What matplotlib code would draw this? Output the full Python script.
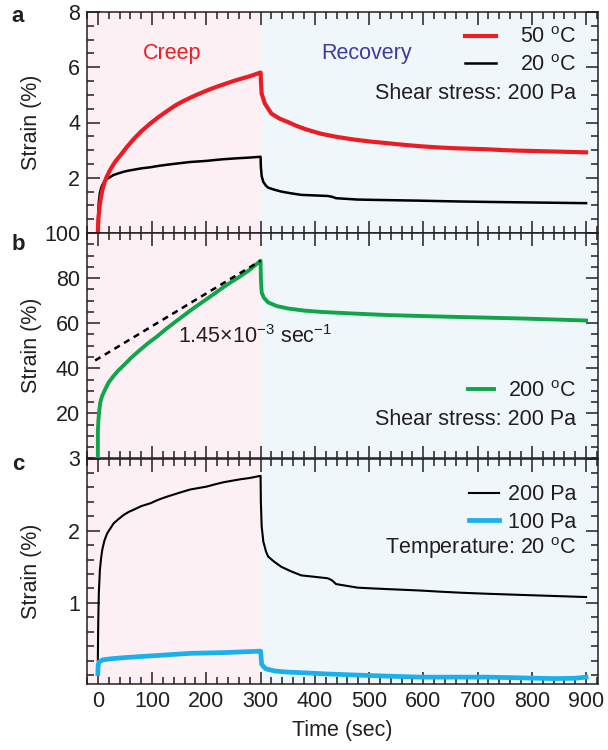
import matplotlib
matplotlib.use("Agg")
import matplotlib.pyplot as plt
from matplotlib.ticker import MultipleLocator, FixedLocator

plt.rcParams["font.family"] = ["Liberation Sans", "DejaVu Sans"]
plt.rcParams["mathtext.fontset"] = "custom"
plt.rcParams["mathtext.rm"] = "Liberation Sans"
plt.rcParams["mathtext.it"] = "Liberation Sans:italic"
plt.rcParams["mathtext.bf"] = "Liberation Sans:bold"

# ------------------- DATA -------------------
# creep at 50 C, 200 Pa
t_50c = [0, 1, 3, 5, 8, 12, 16, 23, 32, 41, 53, 66, 80, 97, 112, 128, 143, 158,
         174, 189, 205, 220, 235, 250, 265, 281, 300, 300.5, 302, 308, 320, 335,
         351, 366, 381, 396, 412, 440, 473, 503, 534, 565, 595, 625, 656, 687,
         718, 748, 779, 810, 840, 870, 900]
strain_50c = [0, 0.5, 0.92, 1.2, 1.53, 1.82, 2.02, 2.3, 2.58, 2.8, 3.1, 3.4, 3.68,
              3.97, 4.2, 4.42, 4.62, 4.78, 4.93, 5.06, 5.19, 5.3, 5.4, 5.5, 5.59,
              5.68, 5.81, 5.53, 5.04, 4.68, 4.32, 4.14, 4.01, 3.88, 3.77, 3.68,
              3.59, 3.48, 3.38, 3.31, 3.25, 3.19, 3.14, 3.10, 3.07, 3.05, 3.03,
              3.00, 2.98, 2.965, 2.95, 2.935, 2.92]

# creep at 20 C, 200 Pa (same run shown in panels a and c)
t_20c = [0, 0.5, 1, 1.8, 3.7, 6, 8, 12, 17, 23, 29, 38, 48, 57, 66, 80, 97, 112,
         127, 148, 170, 185, 200, 215, 231, 246, 261, 280, 300, 300.5, 302, 305,
         310, 314, 325, 338, 355, 375, 400, 424, 432, 439, 455, 479, 505, 534,
         565, 595, 630, 669, 720, 779, 840, 900]
strain_20c = [0.2, 0.6, 0.85, 1.13, 1.45, 1.62, 1.73, 1.86, 1.96, 2.03, 2.10,
              2.16, 2.22, 2.26, 2.29, 2.34, 2.38, 2.43, 2.47, 2.52, 2.57, 2.59,
              2.61, 2.64, 2.67, 2.69, 2.71, 2.73, 2.76, 2.4, 2.06, 1.85, 1.71,
              1.64, 1.57, 1.50, 1.44, 1.38, 1.36, 1.34, 1.31, 1.26, 1.24, 1.21,
              1.20, 1.19, 1.18, 1.17, 1.155, 1.14, 1.125, 1.11, 1.095, 1.08]

# creep at 200 C, 200 Pa
t_200c = [0, 0, 1, 2.5, 4.4, 8, 13.6, 20, 29, 38, 48, 62, 78, 93, 109, 124, 139.5,
          155, 170, 185, 200.6, 216, 231, 246, 262, 280, 300, 300.5, 302, 306,
          314, 330, 351, 380, 412, 470, 534, 595, 656, 720, 779, 840, 900]
strain_200c = [1.0, 12, 17, 21, 24.8, 27.8, 30.7, 33.8, 36.6, 39.1, 41.4, 44.8,
               48.2, 51.2, 54.1, 57.1, 60.0, 62.8, 65.5, 68.1, 70.7, 73.3, 75.9,
               78.3, 80.7, 83.7, 87.7, 80, 73.6, 71.3, 69.2, 67.6, 66.5, 65.6, 65.0,
               64.3, 63.6, 63.2, 62.8, 62.45, 62.1, 61.65, 61.2]

# linear creep fit, 1.45e-3 1/sec -> 0.145 %/sec
fit_rate = 0.145
fit_t = [-5, 300]
fit_end = 87.7

# creep at 20 C, 100 Pa
t_100pa = [0, 0.5, 2, 9, 25, 48, 78, 109, 140, 170, 200, 231, 265, 299, 300, 302,
           306, 310, 318, 326, 350, 381, 420, 473, 530, 595, 655, 718, 780, 840,
           880, 900]
strain_100pa = [0.02, 0.13, 0.18, 0.21, 0.225, 0.24, 0.255, 0.27, 0.285, 0.30,
                0.305, 0.31, 0.32, 0.33, 0.33, 0.15, 0.11, 0.085, 0.07, 0.055,
                0.04, 0.03, 0.015, 0.0, -0.015, -0.03, -0.03, -0.03, -0.04, -0.05,
                -0.045, -0.03]

x_ticks = [0, 100, 200, 300, 400, 500, 600, 700, 800, 900]
switch_t = 300

RED = "#ec1c24"
GREEN = "#10a54a"
BLUE = "#1ab0ec"
INK = "#231f20"
PINK_BG = "#fcf0f5"
BLUE_BG = "#eff7fa"

# ------------------- FIGURE -------------------
fig = plt.figure(figsize=(6.08, 7.5), dpi=100)
L, W = 87 / 608, 511 / 608
ax_a = fig.add_axes([L, 1 - 233 / 750, W, 221 / 750])
ax_b = fig.add_axes([L, 1 - 458.5 / 750, W, 225.5 / 750])
ax_c = fig.add_axes([L, 1 - 684 / 750, W, 225.5 / 750])

for ax in (ax_a, ax_b, ax_c):
    ax.set_xlim(-20, 922)
    ax.axvspan(-20, switch_t, color=PINK_BG, zorder=0, lw=0)
    ax.axvspan(switch_t, 922, color=BLUE_BG, zorder=0, lw=0)
    ax.xaxis.set_major_locator(FixedLocator(x_ticks))
    ax.xaxis.set_minor_locator(MultipleLocator(20))
    ax.tick_params(which="both", direction="in", top=True, right=True,
                   width=1.1, color=INK, labelsize=15.5, labelcolor=INK)
    ax.tick_params(which="major", length=9, pad=5)
    ax.tick_params(which="minor", length=5)
    for s in ax.spines.values():
        s.set_linewidth(1.1)
        s.set_color(INK)
    ax.set_ylabel("Strain (%)", fontsize=15.5, color=INK)
    ax.yaxis.set_label_coords(-0.088, 0.5)

# panel a
ax_a.plot(t_20c, strain_20c, color="black", lw=1.8, zorder=3)
ax_a.plot(t_50c, strain_50c, color=RED, lw=3.0, zorder=4)
ax_a.set_ylim(0, 8)
ax_a.yaxis.set_major_locator(FixedLocator([2, 4, 6, 8]))
ax_a.yaxis.set_minor_locator(MultipleLocator(0.5))
ax_a.set_xticklabels([])
ax_a.text(137, 6.5, "Creep", color=RED, fontsize=15.5, ha="center", va="center")
ax_a.text(495, 6.5, "Recovery", color="#3c3c9e", fontsize=15.5, ha="center", va="center")
h_red, = ax_a.plot([], [], color=RED, lw=3.0)
h_blk, = ax_a.plot([], [], color="black", lw=1.8)
ax_a.legend([h_red, h_blk], [r"50 $^{\rm o}$C", r"20 $^{\rm o}$C"],
            loc="upper right", bbox_to_anchor=(0.957, 0.93), frameon=False,
            fontsize=15.5, borderpad=0, borderaxespad=0, handlelength=1.4,
            handletextpad=1.15, labelspacing=0.3, labelcolor=INK)
ax_a.text(0.957, 0.632, "Shear stress: 200 Pa", transform=ax_a.transAxes,
          ha="right", va="center", fontsize=15.5, color=INK)

# panel b
ax_b.plot(t_200c, strain_200c, color=GREEN, lw=2.8, zorder=3)
fit_y = [fit_end - fit_rate * (fit_t[1] - t) for t in fit_t]
ax_b.plot(fit_t, fit_y, color="black", lw=1.8, ls=(0, (2.5, 2)), zorder=4)
ax_b.set_ylim(0, 100)
ax_b.yaxis.set_major_locator(FixedLocator([20, 40, 60, 80, 100]))
ax_b.yaxis.set_minor_locator(MultipleLocator(5))
ax_b.set_xticklabels([])
ax_b.text(148, 54, r"1.45$\times$10$^{-3}$ sec$^{-1}$", fontsize=15.5,
          ha="left", va="center", color=INK)
h_grn, = ax_b.plot([], [], color=GREEN, lw=2.8)
ax_b.legend([h_grn], [r"200 $^{\rm o}$C"], loc="upper right",
            bbox_to_anchor=(0.957, 0.345), frameon=False, fontsize=15.5,
            borderpad=0, borderaxespad=0, handlelength=1.2, handletextpad=0.67,
            labelcolor=INK)
ax_b.text(0.957, 0.175, "Shear stress: 200 Pa", transform=ax_b.transAxes,
          ha="right", va="center", fontsize=15.5, color=INK)

# panel c
ax_c.plot(t_20c, strain_20c, color="black", lw=1.5, zorder=3)
ax_c.plot(t_100pa, strain_100pa, color=BLUE, lw=3.4, zorder=4)
ax_c.set_ylim(-0.125, 3)
ax_c.yaxis.set_major_locator(FixedLocator([1, 2, 3]))
ax_c.yaxis.set_minor_locator(MultipleLocator(0.2))
ax_c.set_xlabel("Time (sec)", fontsize=15.5, color=INK, labelpad=6)
h_blk2, = ax_c.plot([], [], color="black", lw=1.5)
h_blu, = ax_c.plot([], [], color=BLUE, lw=3.4)
ax_c.legend([h_blk2, h_blu], ["200 Pa", "100 Pa"], loc="upper right",
            bbox_to_anchor=(0.957, 0.885), frameon=False, fontsize=15.5,
            borderpad=0, borderaxespad=0, handlelength=1.4, handletextpad=0.4,
            labelspacing=0.3, labelcolor=INK)
ax_c.text(0.957, 0.603, r"Temperature: 20 $^{\rm o}$C", transform=ax_c.transAxes,
          ha="right", va="center", fontsize=15.5, color=INK)

# panel letters
for y_px, letter in ((17, "a"), (245, "b"), (464, "c")):
    fig.text(18 / 608, 1 - y_px / 750, letter, fontsize=16, fontweight="bold",
             ha="center", va="center", color=INK)

fig.savefig("out.png", dpi=100)
